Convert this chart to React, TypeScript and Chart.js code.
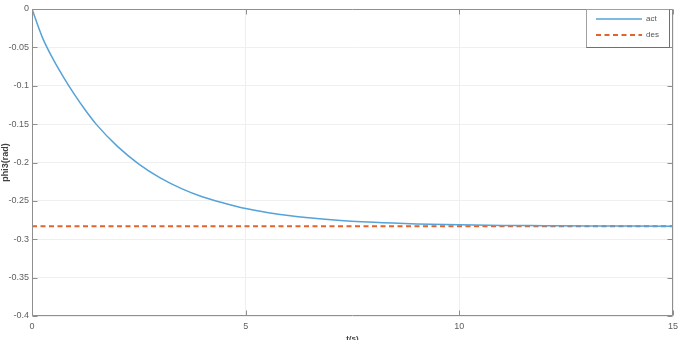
import React, { useEffect, useRef } from "react";
import { Chart, registerables } from "chart.js";

Chart.register(...registerables);

// ---- data ----
const tValues = [0, 0.25, 0.5, 0.75, 1, 1.25, 1.5, 2, 2.5, 3, 3.5, 4, 4.5, 5, 5.5, 6, 7, 8, 9, 10, 11, 12, 13, 14, 15];
const actValues = [0, -0.038, -0.066, -0.09, -0.112, -0.132, -0.15, -0.179, -0.202, -0.22, -0.234, -0.245, -0.253, -0.26, -0.265, -0.269, -0.2745, -0.278, -0.28, -0.281, -0.282, -0.2823, -0.2826, -0.2828, -0.283];
const desT = [0, 15];
const desValues = [-0.283, -0.283];
const seriesLabels = ["act", "des"];
const xTickValues = [0, 5, 10, 15];
const yTickValues = [0, -0.05, -0.1, -0.15, -0.2, -0.25, -0.3, -0.35, -0.4];
const xTitle = "t(s)";
const yTitle = "phi3(rad)";

const FONT = "'Liberation Sans', Arial, Helvetica, sans-serif";
const ACT_COLOR = "#55a3d8";
const DES_COLOR = "#e0642c";

const matlabPlugin = {
  id: "matlabAxes",
  afterDraw(chart: any) {
    const { ctx, chartArea, scales } = chart;
    const { left, right, top, bottom } = chartArea;
    const L = Math.round(left) + 0.5;
    const R = Math.round(right) - 0.5;
    const T = Math.round(top) + 0.5;
    const B = Math.round(bottom) - 0.5;
    ctx.save();
    ctx.strokeStyle = "#8e8e8e";
    ctx.lineWidth = 1;
    ctx.beginPath();
    ctx.moveTo(L, T);
    ctx.lineTo(R, T);
    ctx.lineTo(R, B);
    ctx.lineTo(L, B);
    ctx.closePath();
    ctx.stroke();
    const tl = 5;
    ctx.beginPath();
    scales.x.ticks.forEach((tk: any) => {
      const px = Math.round(scales.x.getPixelForValue(tk.value)) + 0.5;
      ctx.moveTo(px, B);
      ctx.lineTo(px, B - tl);
      ctx.moveTo(px, T);
      ctx.lineTo(px, T + tl);
    });
    scales.y.ticks.forEach((tk: any) => {
      const py = Math.round(scales.y.getPixelForValue(tk.value)) + 0.5;
      ctx.moveTo(L, py);
      ctx.lineTo(L + tl, py);
      ctx.moveTo(R, py);
      ctx.lineTo(R - tl, py);
    });
    ctx.stroke();

    // legend
    const lx0 = 586.5;
    const ly0 = Math.round(top) + 0.5;
    const lx1 = 669.5;
    const ly1 = 47.5;
    ctx.fillStyle = "#ffffff";
    ctx.fillRect(lx0, ly0, lx1 - lx0, ly1 - ly0);
    ctx.strokeStyle = "#a0a0a0";
    ctx.strokeRect(lx0, ly0, lx1 - lx0, ly1 - ly0);
    ctx.strokeStyle = "#707070";
    ctx.beginPath();
    ctx.moveTo(lx1, ly0);
    ctx.lineTo(lx1, ly1);
    ctx.lineTo(lx0, ly1);
    ctx.stroke();

    const ds = chart.data.datasets;
    const rows = [19, 35];
    ds.forEach((d: any, i: number) => {
      const y = rows[i];
      ctx.strokeStyle = d.borderColor;
      ctx.lineWidth = d.borderWidth;
      ctx.setLineDash(d.borderDash || []);
      ctx.beginPath();
      ctx.moveTo(596, y);
      ctx.lineTo(642, y);
      ctx.stroke();
      ctx.setLineDash([]);
      ctx.fillStyle = "#555555";
      ctx.font = `8px ${FONT}`;
      ctx.textBaseline = "middle";
      ctx.textAlign = "left";
      ctx.fillText(d.label, 646, y);
    });
    ctx.restore();
  },
};

export default function App() {
  const ref = useRef<HTMLCanvasElement | null>(null);
  useEffect(() => {
    if (!ref.current) return;
    const chart = new Chart(ref.current, {
      type: "line",
      data: {
        datasets: [
          {
            label: seriesLabels[0],
            data: tValues.map((t, i) => ({ x: t, y: actValues[i] })),
            borderColor: ACT_COLOR,
            borderWidth: 1.5,
            pointRadius: 0,
            cubicInterpolationMode: "monotone",
            fill: false,
          },
          {
            label: seriesLabels[1],
            data: desT.map((t, i) => ({ x: t, y: desValues[i] })),
            borderColor: DES_COLOR,
            borderWidth: 2,
            borderDash: [5, 3.5],
            pointRadius: 0,
            fill: false,
          },
        ],
      },
      options: {
        responsive: false,
        animation: false,
        layout: { padding: { top: 9, right: 7, left: 0, bottom: 0 } },
        plugins: { legend: { display: false }, tooltip: { enabled: false } },
        scales: {
          x: {
            type: "linear",
            min: 0,
            max: 15,
            afterBuildTicks: (s: any) => {
              s.ticks = xTickValues.map((v) => ({ value: v }));
            },
            afterFit: (s: any) => {
              s.height = 24;
              s.paddingRight = 0;
              s.paddingLeft = 0;
            },
            ticks: {
              color: "#606060",
              font: { family: FONT, size: 9 },
              padding: 5,
              maxRotation: 0,
              callback: (v: any) => String(v),
            },
            grid: { color: "#efefef", drawTicks: false, lineWidth: 1 },
            border: { display: false },
            title: {
              display: true,
              text: xTitle,
              color: "#404040",
              font: { family: FONT, size: 8, weight: "bold" },
              padding: { top: 0, bottom: -4 },
            },
          },
          y: {
            type: "linear",
            min: -0.4,
            max: 0,
            afterBuildTicks: (s: any) => {
              s.ticks = yTickValues.map((v) => ({ value: v }));
            },
            afterFit: (s: any) => {
              s.width = 32;
              s.paddingTop = 0;
              s.paddingBottom = 0;
            },
            ticks: {
              color: "#606060",
              font: { family: FONT, size: 9 },
              padding: 3,
              callback: (v: any) => String(Math.round(Number(v) * 100) / 100),
            },
            grid: { color: "#efefef", drawTicks: false, lineWidth: 1 },
            border: { display: false },
            title: {
              display: true,
              text: yTitle,
              color: "#404040",
              font: { family: FONT, size: 9, weight: "bold" },
              padding: { top: 0, bottom: 0 },
            },
          },
        },
      } as any,
      plugins: [matlabPlugin],
    });
    return () => chart.destroy();
  }, []);
  return (
    <div style={{ position: "absolute", left: 0, top: 0, width: 680, height: 340, background: "#fff" }}>
      <canvas ref={ref} width={680} height={340} style={{ display: "block", width: 680, height: 340 }} />
    </div>
  );
}
